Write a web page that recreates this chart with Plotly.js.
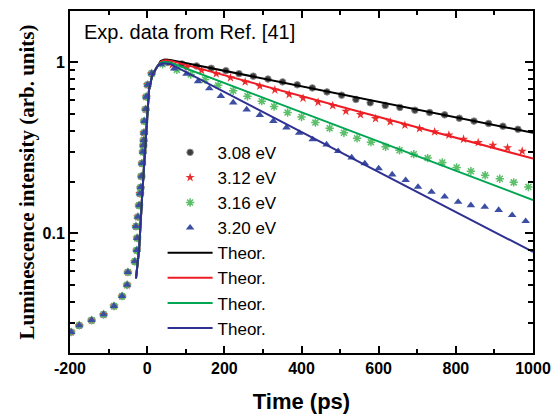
<!DOCTYPE html>
<html>
<head>
<meta charset="utf-8">
<script src="https://cdn.plot.ly/plotly-3.0.1.min.js"></script>
<style>html,body{margin:0;padding:0;background:#fff;}#chart{width:554px;height:416px;}</style>
</head>
<body>
<div id="chart"></div>
<script>
// Shared rising edge (all four spectra overlap here)
var riseT = [-197, -176, -144, -113, -86, -65, -52, -50, -32, -27, -26, -29, -24, -21, -18.6, -17, -15, -13.5, -11, -10, -9, -8.3, -7.5, -4, -2.3, 1.2, 11.6];
var riseV = [0.0265, 0.029, 0.0311, 0.0336, 0.0376, 0.043, 0.050, 0.0594, 0.0686, 0.0798, 0.094, 0.110, 0.125, 0.146, 0.171, 0.186, 0.216, 0.257, 0.30, 0.328, 0.351, 0.388, 0.454, 0.533, 0.63, 0.74, 0.863];

// Decay data, 3.08 eV
var t308 = [53, 90, 128, 166, 204, 238, 275, 313, 351, 389, 428, 466, 504, 541, 578, 617, 655, 694, 732, 771, 809, 847, 885, 922, 961];
var v308 = [1.0, 0.98, 0.955, 0.925, 0.895, 0.86, 0.832, 0.80, 0.77, 0.74, 0.71, 0.673, 0.644, 0.608, 0.581, 0.561, 0.546, 0.526, 0.510, 0.494, 0.472, 0.454, 0.440, 0.424, 0.407];
// 3.12 eV
var t312 = [65, 103, 141, 179, 216, 254, 292, 331, 368, 404, 443, 481, 515, 553, 592, 630, 668, 706, 745, 782, 820, 858, 896, 934, 972];
var v312 = [0.97, 0.935, 0.90, 0.86, 0.815, 0.77, 0.727, 0.691, 0.650, 0.618, 0.586, 0.560, 0.519, 0.496, 0.470, 0.450, 0.430, 0.411, 0.393, 0.376, 0.356, 0.340, 0.328, 0.317, 0.303];
// 3.16 eV
var t316 = [40, 77, 113, 150, 184, 223, 260, 297, 329, 364, 400, 436, 473, 510, 544, 580, 618, 654, 691, 727, 765, 802, 839, 876, 914, 950, 988];
var v316 = [0.975, 0.905, 0.85, 0.795, 0.735, 0.683, 0.635, 0.594, 0.553, 0.51, 0.48, 0.445, 0.413, 0.388, 0.360, 0.342, 0.321, 0.307, 0.291, 0.276, 0.260, 0.243, 0.231, 0.219, 0.209, 0.199, 0.187];
// 3.20 eV
var t320 = [35, 70, 102, 132, 161, 191, 223, 258, 292, 327, 361, 394, 429, 465, 495, 530, 564, 600, 635, 670, 702, 737, 771, 806, 839, 875, 911, 946, 981];
var v320 = [0.975, 0.92, 0.857, 0.776, 0.705, 0.636, 0.583, 0.53, 0.493, 0.454, 0.416, 0.387, 0.355, 0.331, 0.303, 0.278, 0.257, 0.240, 0.221, 0.205, 0.187, 0.175, 0.164, 0.153, 0.146, 0.143, 0.137, 0.128, 0.118];

// Theoretical curves
var theoRiseT = [-29, -21, -12.7, -5.7, -1.3, 4.7, 13, 25];
var theoRiseV = [0.0546, 0.08, 0.171, 0.307, 0.48, 0.69, 0.84, 0.94];
var th308T = [35, 45, 60, 1000], th308V = [1.02, 1.04, 1.035, 0.388];
var th312T = [35, 45, 60, 1000], th312V = [1.01, 1.03, 1.025, 0.274];
var th316T = [33, 42, 60, 1000], th316V = [0.99, 1.01, 1.0, 0.157];
var th320T = [32, 40, 60, 1000], th320V = [0.975, 0.99, 0.98, 0.078];

var expLabels = ['3.08 eV', '3.12 eV', '3.16 eV', '3.20 eV'];
var theoLabel = 'Theor.';
var xTickVals = [-200, 0, 200, 400, 600, 800, 1000];
var xTickText = ['-200', '0', '200', '400', '600', '800', '1000'];
var yTickVals = [0.1, 1];
var yTickText = ['0.1', '1'];
var yMinorVals = [0.02, 0.03, 0.04, 0.05, 0.06, 0.07, 0.08, 0.09, 0.2, 0.3, 0.4, 0.5, 0.6, 0.7, 0.8, 0.9, 2];

var cBlack = '#000000', cRed = '#ee1c24', cGreen = '#00a651', cBlue = '#2e3192';

function expTrace(t, v, name, marker) {
  return {x: riseT.concat(t), y: riseV.concat(v), name: name, type: 'scatter', mode: 'markers', marker: marker};
}
function theoTrace(t, v, color) {
  return {x: theoRiseT.concat(t), y: theoRiseV.concat(v), name: theoLabel, type: 'scatter', mode: 'lines', line: {color: color, width: 2}};
}

var data = [
  expTrace(t308, v308, expLabels[0], {symbol: 'circle', size: 6.5, color: '#3c3c3c', line: {color: '#8a8a8a', width: 1}}),
  expTrace(t312, v312, expLabels[1], {symbol: 'star', size: 7, color: '#e8312f', line: {width: 0}}),
  expTrace(t316, v316, expLabels[2], {symbol: 'asterisk-open', size: 7, color: '#5cbf6a', line: {color: '#5cbf6a', width: 1.5}}),
  expTrace(t320, v320, expLabels[3], {symbol: 'triangle-up', size: 7.5, color: '#3b4ea3', line: {width: 0}}),
  theoTrace(th308T, th308V, cBlack),
  theoTrace(th312T, th312V, cRed),
  theoTrace(th316T, th316V, cGreen),
  theoTrace(th320T, th320V, cBlue)
];

var tickFont = {family: 'Liberation Sans, Arial, sans-serif', size: 16, color: '#000', weight: 'bold'};

var layout = {
  width: 554, height: 416,
  margin: {l: 70, r: 21, t: 11, b: 63},
  paper_bgcolor: '#fff', plot_bgcolor: '#fff',
  showlegend: true,
  legend: {x: 0.2, y: 0.638, xanchor: 'left', yanchor: 'top', bgcolor: 'rgba(0,0,0,0)',
           font: {family: 'Liberation Sans, Arial, sans-serif', size: 17, color: '#000'},
           itemwidth: 45, tracegroupgap: 0},
  xaxis: {
    range: [-200, 1000], tickmode: 'array', tickvals: xTickVals, ticktext: xTickText,
    ticks: 'inside', ticklen: 7, tickwidth: 2, tickcolor: '#000',
    minor: {dtick: 100, tick0: 0, ticks: 'inside', ticklen: 4, tickwidth: 2, tickcolor: '#000'},
    showline: true, linewidth: 2, linecolor: '#000', mirror: 'allticks',
    showgrid: false, zeroline: false, tickfont: tickFont,
    title: {text: 'Time (ps)', font: {family: 'Liberation Sans, Arial, sans-serif', size: 22, color: '#000', weight: 'bold'}, standoff: 17}
  },
  yaxis: {
    type: 'log', range: [Math.log10(0.02), Math.log10(2)],
    tickmode: 'array', tickvals: yTickVals, ticktext: yTickText,
    ticks: 'inside', ticklen: 8, tickwidth: 2, tickcolor: '#000',
    minor: {tickmode: 'array', tickvals: yMinorVals, ticks: 'inside', ticklen: 5, tickwidth: 2, tickcolor: '#000'},
    showline: true, linewidth: 2, linecolor: '#000', mirror: 'allticks',
    showgrid: false, zeroline: false, tickfont: tickFont,
    title: {text: 'Luminescence intensity (arb. units)', font: {family: 'Liberation Serif, Times New Roman, serif', size: 21, color: '#000', weight: 'bold'}, standoff: 2}
  },
  annotations: [{
    text: 'Exp. data from Ref. [41]', xref: 'paper', yref: 'paper', x: 0.026, y: 0.9386,
    xanchor: 'left', yanchor: 'middle', showarrow: false,
    font: {family: 'Liberation Sans, Arial, sans-serif', size: 20, color: '#000'}
  }]
};

Plotly.newPlot('chart', data, layout, {displayModeBar: false, staticPlot: true});
</script>
</body>
</html>
